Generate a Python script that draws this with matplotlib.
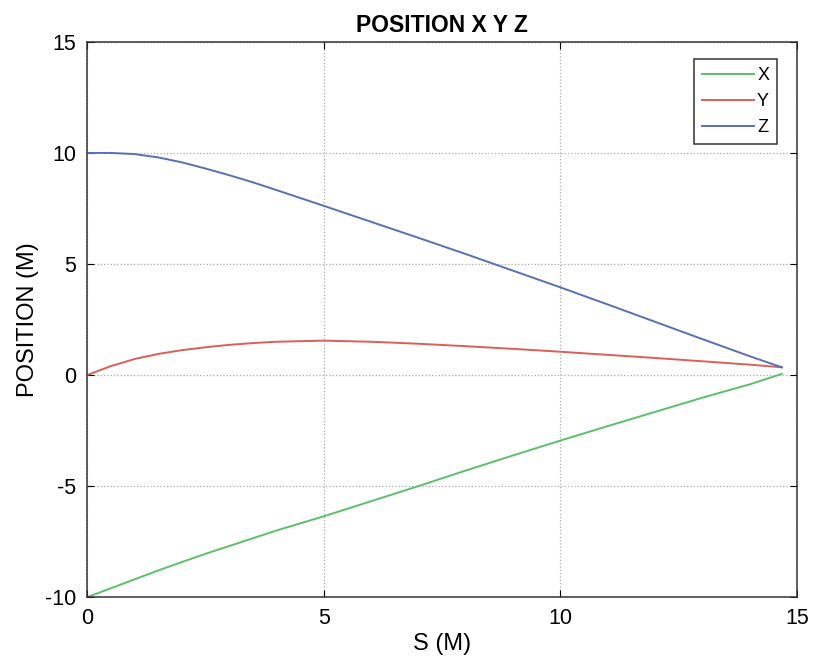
import matplotlib
matplotlib.use("Agg")
import matplotlib.pyplot as plt

# values
s = [0, 0.5, 1, 1.5, 2, 2.5, 3, 3.5, 4, 5, 6, 7, 8, 9, 10, 11, 12, 13, 14, 14.68]
pos_x = [-10, -9.6, -9.2, -8.8, -8.42, -8.05, -7.7, -7.35, -7.0, -6.36, -5.68, -5.0,
         -4.3, -3.62, -2.95, -2.3, -1.66, -1.02, -0.42, 0.05]
pos_y = [0, 0.4, 0.72, 0.95, 1.12, 1.25, 1.36, 1.44, 1.5, 1.55, 1.5, 1.41,
         1.3, 1.18, 1.05, 0.91, 0.77, 0.62, 0.47, 0.35]
pos_z = [10, 10.0, 9.95, 9.8, 9.58, 9.3, 9.0, 8.68, 8.33, 7.62, 6.9, 6.18,
         5.45, 4.7, 3.95, 3.18, 2.4, 1.62, 0.85, 0.35]

plt.rcParams["font.family"] = ["Liberation Sans", "DejaVu Sans"]
plt.rcParams["axes.unicode_minus"] = False

fig = plt.figure(figsize=(8.14, 6.65), dpi=100)
ax = fig.add_axes([0.107, 0.102, 0.872, 0.835])

ax.plot(s, pos_x, color="#5cbf6a", lw=1.4, label="X")
ax.plot(s, pos_y, color="#d9605a", lw=1.4, label="Y")
ax.plot(s, pos_z, color="#5a6fb5", lw=1.4, label="Z")

ax.set_xlim(0, 15)
ax.set_ylim(-10, 15)
ax.set_xticks([0, 5, 10, 15])
ax.set_yticks([-10, -5, 0, 5, 10, 15])
ax.tick_params(direction="in", top=True, right=True, labelsize=15.5, length=5, pad=8)
ax.grid(True, linestyle=":", color="#aaaaaa", lw=0.9)
for sp in ax.spines.values():
    sp.set_color("#333333")
    sp.set_linewidth(1.1)

ax.set_title("POSITION X Y Z", fontsize=16.5, fontweight="bold", pad=7)
ax.set_xlabel("S (M)", fontsize=17, labelpad=3)
ax.set_ylabel("POSITION (M)", fontsize=17, labelpad=4)

leg = ax.legend(loc="upper right", bbox_to_anchor=(0.985, 0.986), fancybox=False,
                edgecolor="#333333", fontsize=13, handlelength=2.9, borderpad=0.45,
                labelspacing=0.5, handletextpad=0.15, framealpha=1)
leg.get_frame().set_linewidth(1.1)

fig.savefig("out.png", dpi=100)
